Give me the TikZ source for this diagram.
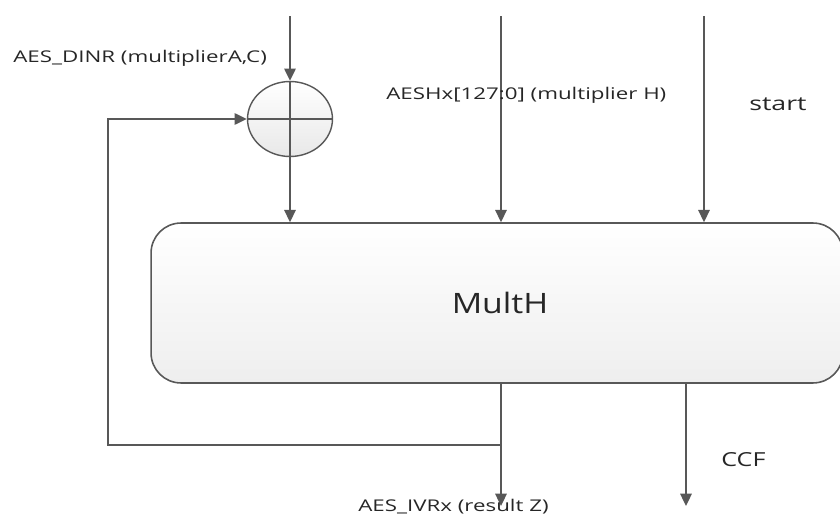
\documentclass[tikz,border=0pt]{standalone}
\usepackage{fontspec}
\setmainfont{Open Sans}
\usepackage{tikz}
\usetikzlibrary{arrows.meta}
\usetikzlibrary{shapes.geometric}
\definecolor{linegray}{RGB}{88,88,88}
\definecolor{boxgray}{RGB}{238,238,238}
\newcommand{\widetxt}[2][1.38]{\scalebox{#1}[1]{#2}}
\tikzset{
 sig/.style={draw=linegray,line width=1.1pt,-{Triangle[length=7pt,width=6.5pt]}},
 wire/.style={draw=linegray,line width=1.1pt},
 lbl/.style={inner sep=0pt,font=\fontsize{9.2}{11}\selectfont,text=black!85},
 biglbl/.style={inner sep=0pt,font=\fontsize{11}{13}\selectfont,text=black!85}
}
\begin{document}
\begin{tikzpicture}[x=0.02cm,y=-0.02cm]
\useasboundingbox (0,0) rectangle (840,524);
% adder
 \node[ellipse,draw=linegray,line width=0.8pt,top color=white,bottom color=gray!18,
  minimum width=1.7cm,minimum height=1.5cm,inner sep=0pt] (xor) at (290,119) {};
 \draw[draw=linegray,line width=0.6pt] (xor.west)--(xor.east);
 \draw[wire] (xor.north)--(xor.south);
% MultH block
 \node[draw=linegray,line width=0.9pt,rounded corners=0.6cm,top color=white,bottom color=boxgray,
  minimum width=13.84cm,minimum height=3.2cm] (multh) at (497,303) {};
 \node[inner sep=0pt,font=\fontsize{16}{19}\selectfont,text=black!85] (multhtxt) at (500,303) {\widetxt[1.2]{MultH}};
% inputs
 \coordinate (inA) at (290,16);
 \coordinate (inH) at (501,16);
 \coordinate (inS) at (704,16);
 \draw[sig] (inA)--(xor.north);
 \draw[sig] (xor.south)--(multh.north -| xor.south);
 \draw[sig] (inH)--(multh.north -| inH);
 \draw[sig] (inS)--(multh.north -| inS);
% outputs
 \coordinate (outZ) at (501,506);
 \coordinate (outC) at (686,506);
 \draw[sig] (multh.south -| outZ)--(outZ);
 \draw[sig] (multh.south -| outC)--(outC);
% feedback
 \coordinate (tap) at (501,445);
 \coordinate (fb) at (108,445);
 \draw[sig] (tap)--(fb)|-(xor.west);
% labels
 \node[lbl,anchor=west] (labA) at (13,58) {\widetxt{AES\_DINR (multiplierA,C)}};
 \node[lbl,anchor=west] (labH) at (386,95) {\widetxt{AESHx[127:0] (multiplier H)}};
 \node[biglbl,anchor=west] (labS) at (749,104) {\widetxt{start}};
 \node[biglbl,anchor=west] (labC) at (721,460) {\widetxt[1.3]{CCF}};
 \node[lbl,anchor=west] (labZ) at (358,507) {\widetxt{AES\_IVRx (result Z)}};
\end{tikzpicture}
\end{document}
